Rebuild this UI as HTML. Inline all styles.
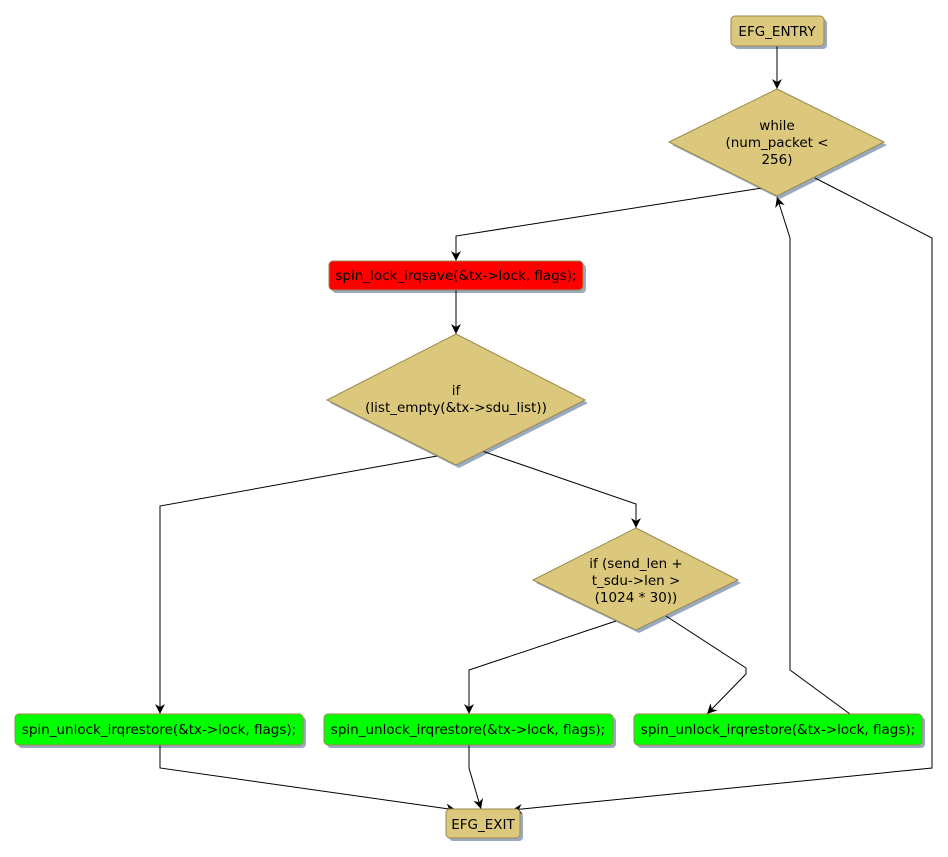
<!DOCTYPE html>
<html><head><meta charset="utf-8"><style>
html,body{margin:0;padding:0;background:#fff;width:948px;height:857px;overflow:hidden}
text{font-family:"DejaVu Sans","Liberation Sans",sans-serif;font-size:13.5px;fill:#000}
</style></head><body>
<svg width="948" height="857" viewBox="0 0 948 857" xmlns="http://www.w3.org/2000/svg">
<defs>
<marker id="a" viewBox="0 0 10 10" refX="10" refY="5" markerWidth="10" markerHeight="10" markerUnits="userSpaceOnUse" orient="auto">
<path d="M0,0 L10,5 L0,10 L3,5 z" fill="#000"/></marker>
</defs>
<g fill="#9aa9c2">
<rect x="734" y="19" width="93" height="30" rx="4"/>
<polygon points="780,92 887,145 780,199 672,145"/>
<rect x="332" y="264" width="254" height="29" rx="4"/>
<polygon points="459,337 588,403 459,468 330,403"/>
<polygon points="639,531 741,583 639,633 536,583"/>
<rect x="18" y="717" width="288" height="31" rx="4"/>
<rect x="327" y="717" width="289" height="31" rx="4"/>
<rect x="637" y="717" width="288" height="31" rx="4"/>
<rect x="449" y="812" width="74" height="29" rx="4"/>
</g>
<g fill="none" stroke="#000" stroke-width="1">
<path d="M777,46 L777,89" marker-end="url(#a)"/>
<path d="M762,188 L456,236 L456,261" marker-end="url(#a)"/>
<path d="M815,178 L932,238 L932,768 L512,810" marker-end="url(#a)"/>
<path d="M456,290 L456,334" marker-end="url(#a)"/>
<path d="M437,456 L160,506 L160,714" marker-end="url(#a)"/>
<path d="M482,451 L636,504 L636,528" marker-end="url(#a)"/>
<path d="M616,621 L469,670 L469,714" marker-end="url(#a)"/>
<path d="M666,616 L746,668 L746,674 L707,714" marker-end="url(#a)"/>
<path d="M850,714 L790,670 L790,238 L777,197" marker-end="url(#a)"/>
<path d="M160,745 L160,768 L456,810" marker-end="url(#a)"/>
<path d="M469,745 L469,768 L481,809" marker-end="url(#a)"/>
</g>
<g stroke="#9a8a4a" stroke-width="1">
<rect x="731" y="16" width="93" height="30" rx="4" fill="#dbc87c"/>
<polygon points="777,89 884,142 777,196 669,142" fill="#dbc87c"/>
<rect x="329" y="261" width="254" height="29" rx="4" fill="#ff0000"/>
<polygon points="456,334 585,400 456,465 327,400" fill="#dbc87c"/>
<polygon points="636,528 738,580 636,630 533,580" fill="#dbc87c"/>
<rect x="15" y="714" width="288" height="31" rx="4" fill="#00ff00"/>
<rect x="324" y="714" width="289" height="31" rx="4" fill="#00ff00"/>
<rect x="634" y="714" width="288" height="31" rx="4" fill="#00ff00"/>
<rect x="446" y="809" width="74" height="29" rx="4" fill="#dbc87c"/>
</g>
<g text-anchor="middle">
<text x="777" y="36">EFG_ENTRY</text>
<text x="777" y="130">while</text>
<text x="777" y="147">(num_packet &lt;</text>
<text x="777" y="164">256)</text>
<text x="456" y="280">spin_lock_irqsave(&amp;tx-&gt;lock, flags);</text>
<text x="456" y="395">if</text>
<text x="456" y="412">(list_empty(&amp;tx-&gt;sdu_list))</text>
<text x="636" y="568">if (send_len +</text>
<text x="636" y="585">t_sdu-&gt;len &gt;</text>
<text x="636" y="602">(1024 * 30))</text>
<text x="159" y="734">spin_unlock_irqrestore(&amp;tx-&gt;lock, flags);</text>
<text x="468" y="734">spin_unlock_irqrestore(&amp;tx-&gt;lock, flags);</text>
<text x="778" y="734">spin_unlock_irqrestore(&amp;tx-&gt;lock, flags);</text>
<text x="483" y="829">EFG_EXIT</text>
</g>
</svg>
</body></html>
